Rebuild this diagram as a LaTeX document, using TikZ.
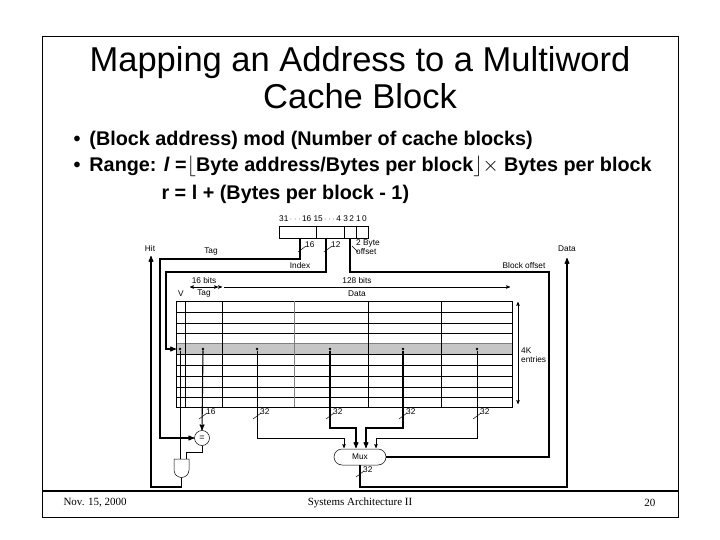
\documentclass[tikz,border=0pt]{standalone}
\usepackage{fontspec}
\setmainfont{Liberation Sans}
\newfontfamily\footfont{Liberation Serif}
\usetikzlibrary{arrows,shapes.misc}

\tikzset{
  wire/.style={line width=1.1pt},
  thin wire/.style={line width=0.5pt},
  lab/.style={font=\fontsize{8.3}{8.5}\selectfont, inner sep=0pt},
  dot/.style={circle,fill,inner sep=0pt,minimum size=2.6pt},
}
% bus width mark: slash plus label
\newcommand{\busmark}[3]{%
  \draw[thin wire] (#1-4,#2+3) -- (#1+4,#2-3);
  \node[lab,anchor=west] at (#1+3,#2-4) {#3};}

\begin{document}
\begin{tikzpicture}[x=1pt,y=-1pt,>=stealth']
  \useasboundingbox (0,0) rectangle (720,540);
  \draw[line width=0.8pt] (42,36) rectangle (678,517);
  \draw[line width=2pt] (42,491) -- (678,491);

  % title and bullets
  \node (title) at (360,78) [align=center,font=\fontsize{34.5}{37}\selectfont]
    {Mapping an Address to a Multiword\\Cache Block};
  \node (b1) at (70,140) [anchor=west,font=\bfseries\fontsize{19.8}{20}\selectfont]
    {\textbullet\hspace{9pt}(Block address) mod (Number of cache blocks)};
  \node (b2) at (70,166) [anchor=west,font=\bfseries\fontsize{19.8}{20}\selectfont]
    {\textbullet\hspace{9pt}Range: \textit{l} =$\lfloor$Byte address/Bytes per block$\rfloor$$\times$ Bytes per block};
  \node (b3) at (158,194) [anchor=west,font=\bfseries\fontsize{19.8}{20}\selectfont]
    {r = l + (Bytes per block - 1)};

  % footer
  \node (date) at (60,503) [anchor=west,font=\footfont\fontsize{11}{12}\selectfont] {Nov. 15, 2000};
  \node (course) at (360,503) [font=\footfont\fontsize{11}{12}\selectfont] {Systems Architecture II};
  \node (page) at (659,503) [anchor=east,font=\footfont\fontsize{11}{12}\selectfont] {20};

  % address
  \draw[thin wire] (279,226) rectangle (368,238);
  \draw[thin wire] (316,226) -- (316,238) (344,226) -- (344,238) (356,226) -- (356,238);
  \node[lab] (bits) at (323,219) {31\,$\cdot\cdot\cdot$\,16\;15\,$\cdot\cdot\cdot$\,4\;3\,2\;1\,0};
  \coordinate (tagout) at (300,238);
  \coordinate (idxout) at (326,238);
  \coordinate (offout) at (350,238);

  % table
  \fill[gray!45] (176,343) rectangle (512,354);
  \foreach \y in {312,323,333,354,365,376,387,397}
    \draw[thin wire] (176,\y) -- (512,\y);
  \draw[thin wire,gray] (176,343) -- (512,343);
  \draw[thin wire] (176,301) rectangle (512,407);
  \draw[thin wire] (185,301) -- (185,407) (222,301) -- (222,407)
    (368,301) -- (368,407) (441,301) -- (441,407);
  \draw[thin wire,gray] (294,301) -- (294,407);
  \node[lab] (v) at (181,294) {V};
  \node[lab] (tagh) at (204,294) {Tag};
  \node[lab] (datah) at (357,294) {Data};
  \node[lab] (tbits) at (204,281) {16 bits};
  \node[lab] (dbits) at (357,281) {128 bits};
  \draw[thin wire,<->] (190,287) -- (218,287);
  \draw[thin wire,<-] (222,287) -- (220,287);
  \draw[thin wire,->] (224,287) -- (510,287);
  \draw[thin wire,<->] (518,302) -- (518,404);
  \node[lab,align=left,anchor=west] (entries) at (521,355) {4K\\[1pt]entries};

  % row taps
  \node[dot] (dv) at (180,349) {};
  \node[dot] (dt) at (203,349) {};
  \node[dot] (d0) at (257,349) {};
  \node[dot] (d1) at (330,349) {};
  \node[dot] (d2) at (403,349) {};
  \node[dot] (d3) at (477,349) {};

  % comparator, and gate, mux
  \node (cmp) at (202,438) [circle,draw,thin wire,minimum size=15pt,inner sep=0pt,font=\fontsize{9}{9}\selectfont] {=};
  \draw[thin wire] (174,470) -- (174,459) -- (189,459) -- (189,470) arc[start angle=0,end angle=180,radius=7.5];
  \coordinate (andout) at (181.5,477.5);
  \node (mux) at (360,457) [rounded rectangle,draw,thin wire,minimum width=52pt,minimum height=16pt,lab] {Mux};

  % address fields
  \draw[wire,->] (tagout) -- (300,259) -- (160,259) -- (160,438) -- (cmp.west);
  \draw[wire,->] (idxout) -- (326,272) -- (166,272) -- (166,349) -- (176,349);
  \draw[wire] (offout) -- (350,272) -- (549,272) -- (549,457) -- (mux.east);
  \busmark{302}{249}{16}
  \busmark{328}{249}{12}
  \draw[thin wire] (352,246) -- (358,252);
  \node[lab,align=left,anchor=west] (offs) at (356,247) {2 Byte\\offset};
  \node[lab] (tagl) at (211,252) {Tag};
  \node[lab] (idxl) at (300,266) {Index};
  \node[lab] (offl) at (524,266) {Block offset};

  % hit
  \draw[wire,->] (andout) -- (181.5,487) -- (151,487) -- (151,256);
  \node[lab] (hit) at (150,249) {Hit};
  \draw[thin wire] (dv) -- (180,459);
  \draw[thin wire] (cmp.south) -- (202,452) -- (186,452) -- (186,459);
  \draw[wire,->] (dt) -- (cmp.north);
  \busmark{203}{416}{16}

  % data words
  \draw[thin wire,->] (d0) -- (257,438) -- (344,438) -- (344,448);
  \draw[wire,->] (d1) -- (330,428) -- (356,428) -- (356,448);
  \draw[wire,->] (d2) -- (403,428) -- (366,428) -- (366,448);
  \draw[thin wire,->] (d3) -- (477,438) -- (376,438) -- (376,448);
  \foreach \x in {257,330,403,477} { \busmark{\x}{416}{32} }

  % output
  \draw[wire,->] (mux.south) -- (360,487) -- (567,487) -- (567,258);
  \busmark{360}{474}{32}
  \node[lab] (data) at (567,249) {Data};
\end{tikzpicture}
\end{document}
